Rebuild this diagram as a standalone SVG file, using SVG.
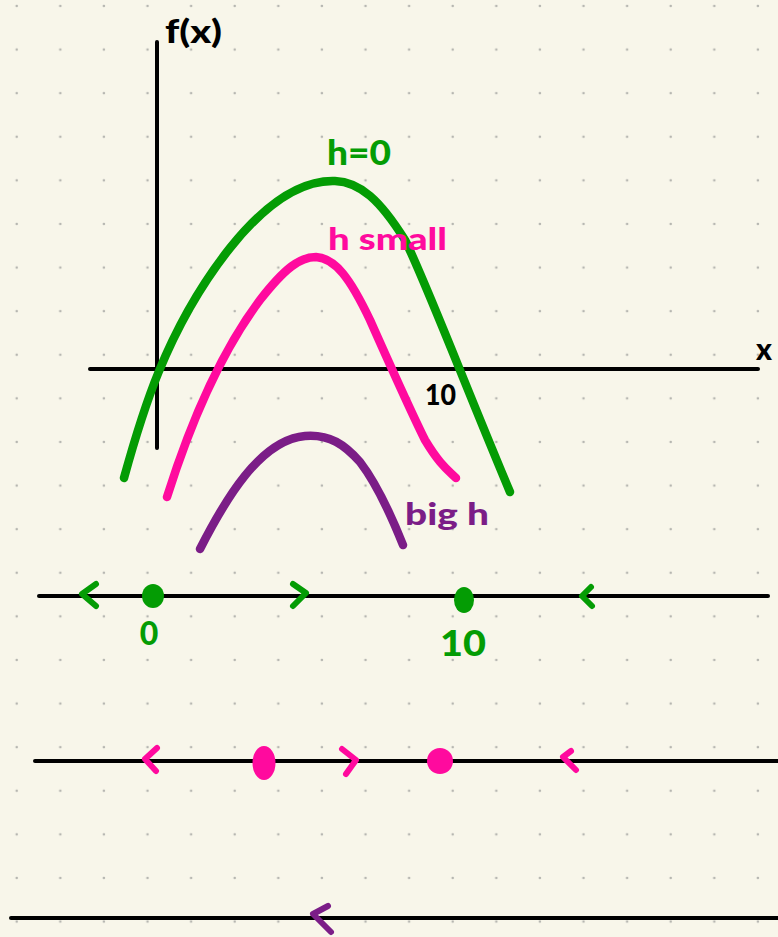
<svg xmlns="http://www.w3.org/2000/svg" width="778" height="937" viewBox="0 0 778 937">
<style>
.ax{stroke:#000;stroke-width:4;stroke-linecap:round;fill:none}
.cv{stroke-width:8.5;stroke-linecap:round;stroke-linejoin:round;fill:none}
.g{stroke:#049c04}
.p{stroke:#ff0a9e}
.v{stroke:#7b1d87}
.ch{stroke-width:6;stroke-linecap:round;stroke-linejoin:round;fill:none}
.t{font-family:Lato,"Open Sans",sans-serif;font-weight:900}
</style>
<defs>
<pattern id="dots" x="0" y="0" width="43.6" height="43.6" patternUnits="userSpaceOnUse">
<circle cx="16.7" cy="6" r="1.3" fill="#b5b5b0"/>
</pattern>
</defs>
<rect width="778" height="937" fill="#f8f6ea"/>
<rect width="778" height="937" fill="url(#dots)"/>

<g id="axes">
<line class="ax" x1="157" y1="42" x2="157" y2="448"/>
<line class="ax" x1="90" y1="369" x2="758" y2="369"/>
<text class="t" x="165" y="43" font-size="32" fill="#000" textLength="57" lengthAdjust="spacingAndGlyphs">f(x)</text>
<text class="t" x="756" y="360" font-size="30" fill="#000">x</text>
<text class="t" x="425" y="405" font-size="29" fill="#000" textLength="31" lengthAdjust="spacingAndGlyphs">10</text>
</g>

<g id="curve-h0">
<path class="cv g" d="M124,478 C140,420 165,330 230,248 C270,198 305,180 335,181 C360,182 380,200 405,240 C425,280 465,385 510,492"/>
<text class="t" x="327" y="165" font-size="34" fill="#049c04" textLength="64" lengthAdjust="spacingAndGlyphs">h=0</text>
</g>

<g id="curve-hsmall">
<path class="cv p" d="M167,497 C185,440 215,360 260,300 C285,268 300,257 316,257 C335,258 350,278 370,320 C390,365 410,410 425,440 C440,465 448,470 456,478"/>
<text class="t" x="328" y="250" font-size="30" fill="#ff0a9e" textLength="119" lengthAdjust="spacingAndGlyphs">h small</text>
</g>

<g id="curve-bigh">
<path class="cv v" d="M200,549 C225,500 260,440 305,436 C330,434 345,445 360,462 C380,488 395,525 403,545"/>
<text class="t" x="405" y="525" font-size="30" fill="#7b1d87" textLength="84" lengthAdjust="spacingAndGlyphs">big h</text>
</g>

<g id="line-h0">
<line class="ax" x1="39" y1="596" x2="768" y2="596"/>
<polyline class="ch g" points="96,584 82,594 96,606"/>
<ellipse cx="153" cy="596" rx="11" ry="12" fill="#049c04"/>
<polyline class="ch g" points="293,584 306,593 293,606"/>
<ellipse cx="464" cy="600" rx="10" ry="13" fill="#049c04"/>
<polyline class="ch g" points="591,587 582,596 592,606"/>
<text class="t" x="149" y="645" font-size="32" fill="#049c04" text-anchor="middle">0</text>
<text class="t" x="463" y="656" font-size="36" fill="#049c04" text-anchor="middle" textLength="46" lengthAdjust="spacingAndGlyphs">10</text>
</g>

<g id="line-hsmall">
<line class="ax" x1="35" y1="761" x2="778" y2="761"/>
<polyline class="ch p" points="157,748 145,759 156,771"/>
<ellipse cx="264" cy="763" rx="11.5" ry="17" fill="#ff0a9e"/>
<polyline class="ch p" points="342,749 356,760 346,774"/>
<ellipse cx="440" cy="761" rx="13" ry="13" fill="#ff0a9e"/>
<polyline class="ch p" points="571,751 563,757 576,770"/>
</g>

<g id="line-bigh">
<line class="ax" x1="11" y1="918" x2="778" y2="918"/>
<polyline class="ch v" points="328,906 313,914 331,932"/>
</g>
</svg>
